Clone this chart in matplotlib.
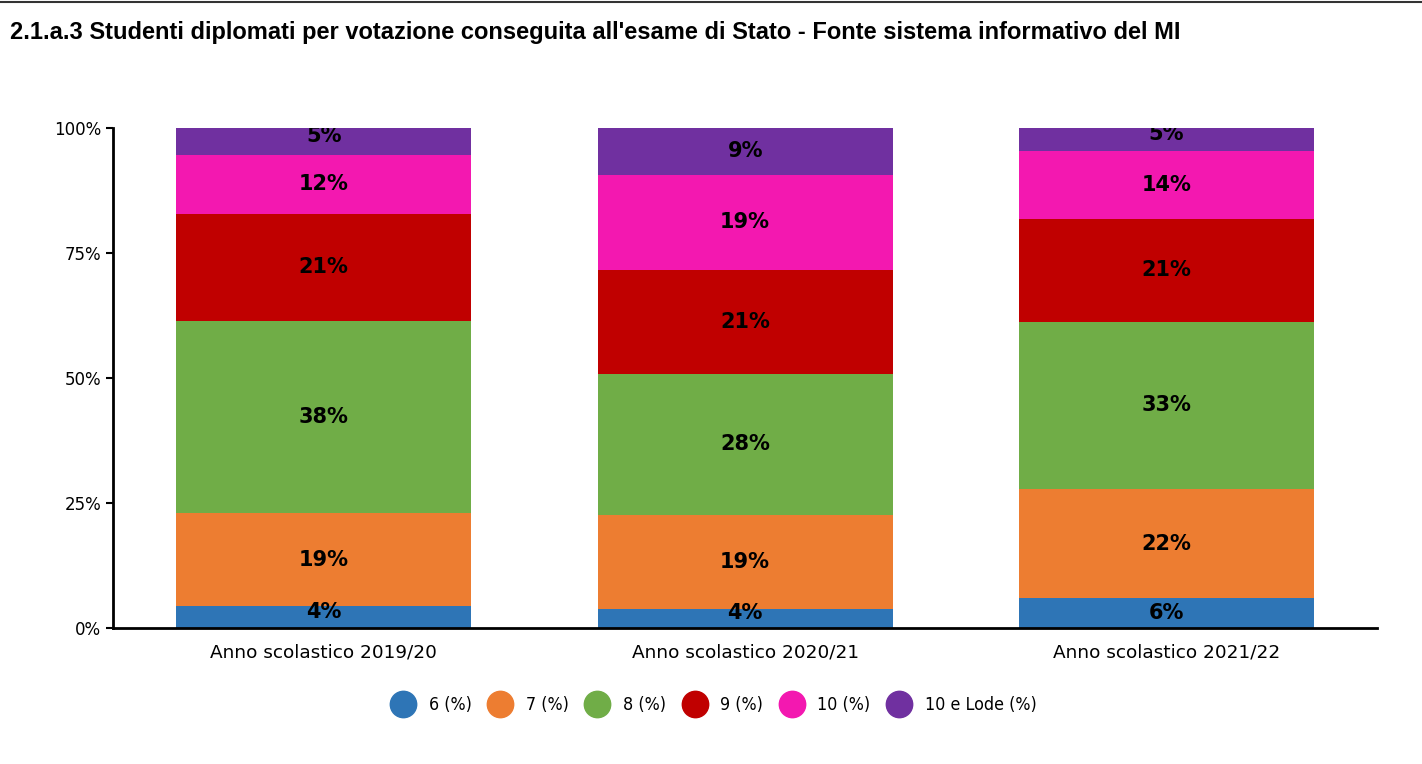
import numpy as np
import matplotlib.pyplot as plt
from matplotlib.lines import Line2D

anni = ['Anno scolastico 2019/20', 'Anno scolastico 2020/21', 'Anno scolastico 2021/22']
voti = ['6 (%)', '7 (%)', '8 (%)', '9 (%)', '10 (%)', '10 e Lode (%)']
colori = ['#2e75b6', '#ed7d31', '#70ad47', '#c00000', '#f318b0', '#7030a0']

v6 = [4.4, 3.8, 6.0]
v7 = [18.6, 18.8, 21.8]
v8 = [38.4, 28.2, 33.4]
v9 = [21.4, 20.8, 20.6]
v10 = [11.8, 19.0, 13.6]
v10lode = [5.4, 9.4, 4.6]
serie = [v6, v7, v8, v9, v10, v10lode]

fig = plt.figure(figsize=(14.22, 7.64), dpi=100)
ax = fig.add_axes([0.0795, 0.178, 0.889, 0.6545])

x = np.arange(len(anni))
base = np.zeros(len(anni))
for vals, col in zip(serie, colori):
    vals = np.array(vals)
    ax.bar(x, vals, 0.7, bottom=base, color=col, zorder=2)
    for xi, b, v in zip(x, base, vals):
        # etichette dei segmenti piccoli leggermente piu' in alto
        yy = b + v / 2 + (1.1 if v < 5.8 else 0)
        t = ax.text(xi, yy, f'{round(v):.0f}%', ha='center', va='center',
                    fontsize=15, fontweight='bold', color='black', zorder=3)
        t.set_clip_on(True)
    base += vals

ax.set_xlim(-0.5, 2.5)
ax.set_ylim(0, 100)
ax.set_yticks([0, 25, 50, 75, 100])
ax.set_yticklabels(['0%', '25%', '50%', '75%', '100%'])
ax.set_xticks(x)
ax.set_xticklabels(anni)
ax.tick_params(axis='y', labelsize=12, length=5, width=1.5)
ax.tick_params(axis='x', labelsize=13.3, length=0, pad=11)
for s in ['top', 'right']:
    ax.spines[s].set_visible(False)
ax.spines['left'].set_linewidth(2)
ax.spines['bottom'].set_linewidth(2)

handles = [Line2D([], [], marker='o', linestyle='', markersize=19, color=c) for c in colori]
fig.legend(handles, voti, loc='center', bbox_to_anchor=(0.5, 0.077), ncol=6,
           frameon=False, handletextpad=0.45, columnspacing=0.6,
           prop={'family': 'DejaVu Sans', 'stretch': 'condensed', 'size': 12.8})

fig.text(0.007, 0.958, "2.1.a.3 Studenti diplomati per votazione conseguita all'esame di Stato - Fonte sistema informativo del MI",
         fontsize=17, fontweight='bold', family='Liberation Sans', va='center')
fig.add_artist(Line2D([0, 1], [0.998, 0.998], color='#333333', linewidth=1.5))

fig.savefig('out.png', dpi=100)
